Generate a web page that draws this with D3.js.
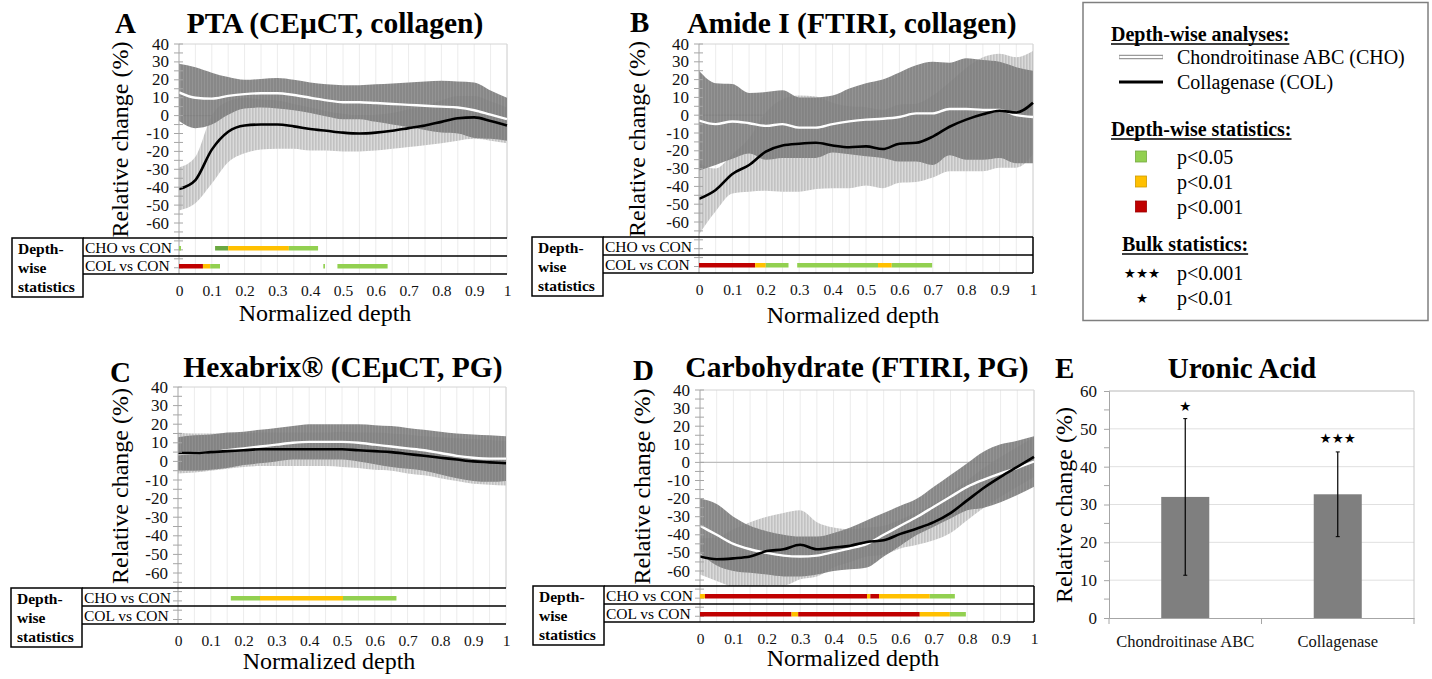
<!DOCTYPE html>
<html><head><meta charset="utf-8">
<script src="https://cdn.jsdelivr.net/npm/d3@7"></script>
<style>
body{margin:0;background:#fff}
svg{display:block}
</style>
</head><body>
<svg id="c" width="1432" height="679"></svg>
<script>
// ---------------- DATA ----------------
const depth = [0,0.05,0.1,0.15,0.2,0.25,0.3,0.35,0.4,0.45,0.5,0.55,0.6,0.65,0.7,0.75,0.8,0.85,0.9,0.95,1];
const xTicks = [0,0.1,0.2,0.3,0.4,0.5,0.6,0.7,0.8,0.9,1];
const xTickLabels = ["0","0.1","0.2","0.3","0.4","0.5","0.6","0.7","0.8","0.9","1"];
const yTickLabels = [40,30,20,10,0,-10,-20,-30,-40,-50,-60];
const rowLabels = ["CHO vs CON","COL vs CON"];

// A: PTA (CEuCT, collagen)
const ptaChoMean = [13,10,9.5,11,12,12.5,12.5,11.5,10,8.5,7.5,7.5,7,6.5,6,5.5,5,4.5,3,0.5,-2];
const ptaChoSd   = [16,17,14.5,10.5,8,8,8.5,8.5,8.5,9,9.5,9.5,10.5,11.5,12.5,13.5,14.5,14.5,15.5,13.5,12];
const ptaColMean = [-41,-36,-19,-9,-5.5,-5,-5,-6,-7.5,-8.5,-9.5,-10,-9.5,-8.5,-7,-5.5,-3.5,-1.5,-1,-3,-5.5];
const ptaColSd   = [12,13,19,17,15.5,14,13.5,12.5,12,11,10.5,10,10,10,10.5,11,12,12.5,12,11,10];
const ptaChoStats = [[0,0.006,"p05"],[0.11,0.15,"p05d"],[0.15,0.335,"p01"],[0.335,0.424,"p05"]];
const ptaColStats = [[0,0.073,"p001"],[0.073,0.095,"p01"],[0.095,0.125,"p05"],[0.44,0.445,"p05"],[0.483,0.636,"p05"]];

// B: Amide I (FTIRI, collagen)
const amiChoMean = [-3,-5,-3.5,-4.5,-6,-5,-7,-7,-5,-3.5,-2.5,-2,-1,1,1,3.5,3.5,3,3,0,-1];
const amiChoSd   = [28,23,21,17,19,19,17,17,16,18.5,20.5,22,25,27,29,26,28.5,28,27,27,26];
const amiColMean = [-47,-42,-33,-28,-20.5,-17,-16,-15.5,-17,-18,-17.5,-19,-16,-15.5,-12,-6.5,-2.5,0.5,2.5,1.5,7];
const amiColSd   = [20,12,11,15,22,26,27,26,24,23,22,22,22,22,23,25,29,32,32,31,29];
const amiChoStats = [];
const amiColStats = [[0,0.168,"p001"],[0.168,0.2,"p01"],[0.2,0.268,"p05"],[0.294,0.536,"p05"],[0.536,0.577,"p01"],[0.577,0.698,"p05"]];

// C: Hexabrix (CEuCT, PG)
const hexChoMean = [4,4.5,5,6,7,8,9,10,10.5,10.5,10.5,10,9,8,7,6,4.5,3,2,1.5,1.5];
const hexChoSd   = [9,9.5,9.5,9.5,9,9,9,9,9.5,9.5,9.5,10,10.5,11,11,11,11.5,12,12.5,12.5,12];
const hexColMean = [4.5,4.5,5,5.5,6,6.5,6.5,6.5,6.5,6.5,6.5,6,5.5,5,4,3,2,1,0,-0.5,-1];
const hexColSd   = [11,10.5,10,9.5,9,9,9,9,9,9,9.5,9.5,10,10,10.5,10.5,11,11.5,12,12,12];
const hexChoStats = [[0.161,0.25,"p05"],[0.25,0.503,"p01"],[0.503,0.666,"p05"]];
const hexColStats = [];

// D: Carbohydrate (FTIRI, PG)
const carChoMean = [-35,-40,-45,-48,-50,-51.5,-52,-51.5,-49.5,-47.5,-45,-40,-35,-30,-24.5,-19,-13.5,-9.5,-6,-3,0.5];
const carChoSd   = [15,17,15,13,12,11.5,11,10.5,10.5,11.5,13,12,11,10,11,12,13,15.5,16,15,14];
const carColMean = [-52,-53.5,-53,-52,-49,-48,-45.5,-48,-47,-46,-44,-43,-39.5,-36.5,-33,-28,-21,-14,-8,-2.5,3];
const carColSd   = [10,12,16,19,19,20,19,15,11,9,8,8,8,9,10,11,11,11,11,11,11];
const carChoStats = [[0,0.015,"p01"],[0.015,0.5,"p001"],[0.5,0.51,"p01"],[0.51,0.536,"p001"],[0.536,0.688,"p01"],[0.688,0.763,"p05"]];
const carColStats = [[0,0.274,"p001"],[0.274,0.294,"p01"],[0.294,0.658,"p001"],[0.658,0.748,"p01"],[0.748,0.796,"p05"]];

// E: Uronic acid (bulk)
const uronicCats = ["Chondroitinase ABC","Collagenase"];
const uronicMean = [32.0,32.7];
const uronicSd   = [20.7,11.2];
const uronicStars = ["\u2605","\u2605\u2605\u2605"];
const uronicStarAt = [56,47.6];
const uronicTicks = [0,10,20,30,40,50,60];

const levelColor = {p05:"#92d050", p05d:"#6aa841", p01:"#ffc000", p001:"#c00000"};

// ---------------- DRAW ----------------
const FONT = '"Liberation Serif","Tinos","Times New Roman","Nimbus Roman","DejaVu Serif","Noto Serif",serif';
const svg = d3.select("#c").attr("font-family",FONT);
svg.append("rect").attr("width",1432).attr("height",679).attr("fill","#fff");
const defs = svg.append("defs");
const pl = defs.append("pattern").attr("id","lightHatch").attr("patternUnits","userSpaceOnUse").attr("width",3).attr("height",8);
pl.append("rect").attr("width",3).attr("height",8).attr("fill","#dadada");
pl.append("rect").attr("width",1.6).attr("height",8).attr("fill","#c2c2c2");
const pd = defs.append("pattern").attr("id","darkHatch").attr("patternUnits","userSpaceOnUse").attr("width",3).attr("height",8);
pd.append("rect").attr("width",3).attr("height",8).attr("fill","#7b7b7b");
pd.append("rect").attr("width",1).attr("height",8).attr("fill","#888888");

const gridDepths = d3.range(0,1.0001,0.05);
const minorY = d3.range(-85,41,5);

function depthPanel(p){
  const g = svg.append("g");
  const x = d3.scaleLinear().domain([0,1]).range([p.x0,p.x1]);
  const y = d3.scaleLinear().domain([-60,40]).range([p.y60,p.y40]);
  const rowTop = p.y60 + 15, rowH = 18, rowBot = rowTop + 2*rowH;

  g.selectAll(".vg").data(gridDepths.slice(1)).join("line")
    .attr("x1",d=>x(d)).attr("x2",d=>x(d)).attr("y1",p.y40).attr("y2",rowBot)
    .attr("stroke","#ececec").attr("stroke-width",1);
  g.append("path").attr("d",`M${p.x0},${p.y40}H${p.x1}V${rowTop}`)
    .attr("fill","none").attr("stroke","#d4d4d4");
  g.append("line").attr("x1",p.x0).attr("x2",p.x1).attr("y1",y(0)).attr("y2",y(0))
    .attr("stroke","#bdbdbd").attr("stroke-width",1.2);

  const cid = "clip"+p.key;
  defs.append("clipPath").attr("id",cid).append("rect")
    .attr("x",p.x0).attr("y",p.y40-3).attr("width",p.x1-p.x0+3).attr("height",rowTop-p.y40+3);
  const b = g.append("g").attr("clip-path",`url(#${cid})`);
  const area = (m,s)=>d3.area().x((d,i)=>x(depth[i]))
      .y0((d,i)=>y(m[i]-s[i])).y1((d,i)=>y(m[i]+s[i])).curve(d3.curveMonotoneX)(m);
  const line = d3.line().x((d,i)=>x(depth[i])).y(d=>y(d)).curve(d3.curveMonotoneX);
  b.append("path").attr("d",area(p.colMean,p.colSd)).attr("fill","url(#lightHatch)");
  b.append("path").attr("d",area(p.choMean,p.choSd)).attr("fill","url(#darkHatch)").attr("opacity",0.9);
  b.append("path").attr("d",line(p.choMean)).attr("fill","none").attr("stroke","#fff").attr("stroke-width",2.4);
  b.append("path").attr("d",line(p.colMean)).attr("fill","none").attr("stroke","#000").attr("stroke-width",2.6);

  const ax = g.append("g").attr("transform",`translate(${p.x0},0)`);
  ax.append("line").attr("y1",p.y40).attr("y2",rowBot).attr("stroke","#a6a6a6");
  ax.selectAll(".mt").data(minorY.filter(v=>y(v)<=rowBot)).join("line")
    .attr("x1",-5).attr("x2",4).attr("y1",d=>y(d)).attr("y2",d=>y(d)).attr("stroke","#a6a6a6");
  ax.selectAll(".tl").data(yTickLabels).join("text")
    .attr("x",-10).attr("y",d=>y(d)+5.5).attr("text-anchor","end")
    .attr("font-size",17).attr("fill","#111").text(d=>d);

  g.append("text").attr("transform",`translate(${p.ylabX},${(p.y40+p.y60+20)/2-4}) rotate(-90)`)
    .attr("text-anchor","middle").attr("font-size",24).text("Relative change (%)");

  g.append("text").attr("x",p.letterX).attr("y",p.letterY).attr("font-size",29).attr("font-weight","bold").text(p.letter);
  g.append("text").attr("x",p.titleX).attr("y",p.titleY).attr("text-anchor","middle")
    .attr("font-size",29.5).attr("font-weight","bold").text(p.title);

  const L = p.x0-167, M = p.x0-96;
  const sg = g.append("g").attr("stroke","#000").attr("stroke-width",1.5).attr("fill","none");
  sg.append("rect").attr("x",L).attr("y",rowTop).attr("width",M-L).attr("height",59);
  sg.append("line").attr("x1",M).attr("x2",p.x1).attr("y1",rowTop).attr("y2",rowTop);
  sg.append("line").attr("x1",M).attr("x2",p.x1).attr("y1",rowTop+rowH).attr("y2",rowTop+rowH);
  sg.append("line").attr("x1",M).attr("x2",p.x1).attr("y1",rowBot).attr("y2",rowBot);
  if(p.rightBorder) sg.append("line").attr("x1",p.x1).attr("x2",p.x1).attr("y1",rowTop).attr("y2",rowBot);
  ["Depth-","wise","statistics"].forEach((t,i)=>{
    g.append("text").attr("x",L+6).attr("y",rowTop+16+i*19).attr("font-size",15.5)
      .attr("font-weight","bold").text(t);
  });
  rowLabels.forEach((t,i)=>{
    g.append("text").attr("x",M+2).attr("y",rowTop+15+i*rowH).attr("font-size",15.5).text(t);
  });
  [p.choStats,p.colStats].forEach((segs,i)=>{
    g.selectAll(null).data(segs).join("rect")
      .attr("x",d=>x(d[0])).attr("width",d=>Math.max(1,x(d[1])-x(d[0])))
      .attr("y",rowTop+i*rowH+rowH/2-1).attr("height",4.5)
      .attr("fill",d=>levelColor[d[2]]);
  });

  const xa = g.append("g").attr("transform",`translate(0,${rowBot})`)
    .call(d3.axisBottom(x).tickValues(xTicks).tickSize(0).tickPadding(0)
      .tickFormat((d,i)=>xTickLabels[i]));
  xa.attr("font-family",FONT);
  xa.select(".domain").remove();
  xa.selectAll("text").attr("font-size",15.5).attr("fill","#111").attr("dy",0).attr("y",22);
  g.append("text").attr("x",p.x0+p.xlabDx).attr("y",rowBot+p.xlabDy).attr("text-anchor","middle")
    .attr("font-size",24).text("Normalized depth");
}

depthPanel({key:"A",x0:179,x1:507,y40:44,y60:223,letter:"A",letterX:115,letterY:33,
  title:"PTA (CE\u03bcCT, collagen)",titleX:335,titleY:33,ylabX:128,xlabDx:146,xlabDy:47,
  choMean:ptaChoMean,choSd:ptaChoSd,colMean:ptaColMean,colSd:ptaColSd,
  choStats:ptaChoStats,colStats:ptaColStats,rightBorder:false});
depthPanel({key:"B",x0:699,x1:1033,y40:44,y60:222,letter:"B",letterX:630,letterY:32,
  title:"Amide I (FTIRI, collagen)",titleX:852,titleY:33,ylabX:645,xlabDx:154,xlabDy:50,
  choMean:amiChoMean,choSd:amiChoSd,colMean:amiColMean,colSd:amiColSd,
  choStats:amiChoStats,colStats:amiColStats,rightBorder:true});
depthPanel({key:"C",x0:178,x1:506,y40:387,y60:573,letter:"C",letterX:110,letterY:382,
  title:"Hexabrix\u00ae (CE\u03bcCT, PG)",titleX:343,titleY:377,ylabX:128,xlabDx:151,xlabDy:45,
  choMean:hexChoMean,choSd:hexChoSd,colMean:hexColMean,colSd:hexColSd,
  choStats:hexChoStats,colStats:hexColStats,rightBorder:false});
depthPanel({key:"D",x0:700,x1:1034,y40:390,y60:571,letter:"D",letterX:633,letterY:380,
  title:"Carbohydrate (FTIRI, PG)",titleX:857,titleY:377,ylabX:650,xlabDx:153,xlabDy:44,
  choMean:carChoMean,choSd:carChoSd,colMean:carColMean,colSd:carColSd,
  choStats:carChoStats,colStats:carColStats,rightBorder:true});

// ---------------- E: bar chart ----------------
(function(){
  const g = svg.append("g");
  const x = d3.scaleBand().domain(uronicCats).range([1109,1414]).paddingInner(0.685).paddingOuter(0.3425);
  const y = d3.scaleLinear().domain([0,60]).range([618,391]);
  g.selectAll(".gl").data(uronicTicks.slice(1)).join("line")
    .attr("x1",1109).attr("x2",1414).attr("y1",d=>y(d)).attr("y2",d=>y(d)).attr("stroke","#e0e0e0");
  g.append("path").attr("d",`M1109,${y(60)}H1414V${y(0)}`).attr("fill","none").attr("stroke","#c8c8c8");
  const ya = g.append("g").attr("transform","translate(1109,0)")
    .call(d3.axisLeft(y).tickValues(uronicTicks).tickSize(5).tickPadding(7));
  ya.attr("font-family",FONT);
  ya.select(".domain").attr("stroke","#a6a6a6");
  ya.selectAll(".tick line").attr("stroke","#a6a6a6");
  ya.selectAll("text").attr("font-size",17).attr("fill","#111");
  g.selectAll(".mn").data(d3.range(5,60,10)).join("line")
    .attr("x1",1104).attr("x2",1109).attr("y1",d=>y(d)).attr("y2",d=>y(d)).attr("stroke","#a6a6a6");
  const xa = g.append("g").attr("transform",`translate(0,${y(0)})`)
    .call(d3.axisBottom(x).tickSize(0).tickPadding(17));
  xa.attr("font-family",FONT);
  xa.select(".domain").attr("stroke","#a6a6a6");
  xa.selectAll("text").attr("font-size",16.5).attr("fill","#111");
  [1109,(1109+1414)/2,1414].forEach(v=>g.append("line").attr("x1",v).attr("x2",v)
    .attr("y1",y(0)).attr("y2",y(0)+6).attr("stroke","#a6a6a6"));
  g.selectAll(".bar").data(uronicCats).join("rect")
    .attr("x",d=>x(d)).attr("width",x.bandwidth())
    .attr("y",(d,i)=>y(uronicMean[i])).attr("height",(d,i)=>y(0)-y(uronicMean[i]))
    .attr("fill","#7f7f7f");
  uronicCats.forEach((c,i)=>{
    const cx = x(c)+x.bandwidth()/2;
    const lo = y(uronicMean[i]-uronicSd[i]), hi = y(uronicMean[i]+uronicSd[i]);
    g.append("line").attr("x1",cx).attr("x2",cx).attr("y1",lo).attr("y2",hi).attr("stroke","#000").attr("stroke-width",1.2);
    [lo,hi].forEach(v=>g.append("line").attr("x1",cx-2).attr("x2",cx+2).attr("y1",v).attr("y2",v).attr("stroke","#000"));
    g.append("text").attr("x",cx).attr("y",y(uronicStarAt[i])+5).attr("text-anchor","middle")
      .attr("font-family","DejaVu Sans").attr("font-size",13.5).text(uronicStars[i]);
  });
  g.append("text").attr("transform","translate(1072,505) rotate(-90)").attr("text-anchor","middle")
    .attr("font-size",24).text("Relative change (%)");
  g.append("text").attr("x",1055).attr("y",378).attr("font-size",29).attr("font-weight","bold").text("E");
  g.append("text").attr("x",1242).attr("y",378).attr("text-anchor","middle").attr("font-size",29)
    .attr("font-weight","bold").text("Uronic Acid");
})();

// ---------------- Legend ----------------
(function(){
  const g = svg.append("g");
  g.append("rect").attr("x",1083).attr("y",2.5).attr("width",345).attr("height",318)
    .attr("fill","#fff").attr("stroke","#7f7f7f").attr("stroke-width",1.5);
  function heading(t,xx,yy){
    const el = g.append("text").attr("x",xx).attr("y",yy).attr("font-size",20).attr("font-weight","bold").text(t);
    const w = el.node().getComputedTextLength();
    g.append("line").attr("x1",xx).attr("x2",xx+w).attr("y1",yy+3).attr("y2",yy+3).attr("stroke","#000").attr("stroke-width",1.5);
  }
  heading("Depth-wise analyses:",1111,41);
  g.append("line").attr("x1",1119).attr("x2",1163).attr("y1",57).attr("y2",57).attr("stroke","#9a9a9a").attr("stroke-width",4.5);
  g.append("line").attr("x1",1119.5).attr("x2",1162.5).attr("y1",57).attr("y2",57).attr("stroke","#fff").attr("stroke-width",2);
  g.append("text").attr("x",1177).attr("y",64).attr("font-size",20).text("Chondroitinase ABC (CHO)");
  g.append("line").attr("x1",1119).attr("x2",1163).attr("y1",82).attr("y2",82).attr("stroke","#000").attr("stroke-width",3);
  g.append("text").attr("x",1177).attr("y",89).attr("font-size",20).text("Collagenase (COL)");
  heading("Depth-wise statistics:",1111,136);
  const lv = [["p05","p<0.05"],["p01","p<0.01"],["p001","p<0.001"]];
  lv.forEach((d,i)=>{
    g.append("rect").attr("x",1135.5).attr("y",151+i*25).attr("width",11).attr("height",11)
      .attr("fill",levelColor[d[0]]).attr("stroke",d3.color(levelColor[d[0]]).darker(0.6)).attr("stroke-width",0.8);
    g.append("text").attr("x",1177).attr("y",164+i*25).attr("font-size",20).text(d[1]);
  });
  heading("Bulk statistics:",1122,251);
  [["\u2605\u2605\u2605","p<0.001"],["\u2605","p<0.01"]].forEach((d,i)=>{
    g.append("text").attr("x",1142).attr("y",278+i*25).attr("text-anchor","middle")
      .attr("font-family","DejaVu Sans").attr("font-size",13.5).text(d[0]);
    g.append("text").attr("x",1177).attr("y",280+i*25).attr("font-size",20).text(d[1]);
  });
})();
</script>
</body></html>
